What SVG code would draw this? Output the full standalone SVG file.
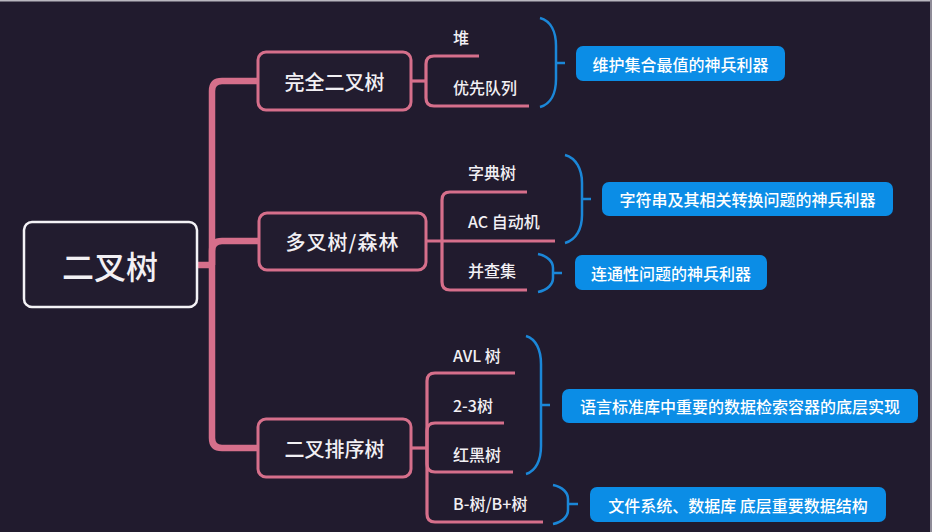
<svg xmlns="http://www.w3.org/2000/svg" width="932" height="532" viewBox="0 0 932 532">
<defs>
<style>
text{font-family:"Noto Sans CJK SC","Noto Sans",sans-serif;fill:#f2f0f4;dominant-baseline:central}
.root rect{fill:#221c2f;stroke:#f4f2f6;stroke-width:2.5}
.root text{font-size:32px;font-weight:500;text-anchor:middle}
.mid rect{fill:#221c2f;stroke:#d66f8b;stroke-width:3}
.mid text{font-size:20px;font-weight:500;text-anchor:middle}
.leaf text{font-size:16px;font-weight:500}
.note rect{fill:#0b8de6}
.note text{font-size:16px;font-weight:500;text-anchor:middle;fill:#ffffff}
.trunk{fill:none;stroke:#d66f8b;stroke-width:6.5;stroke-linecap:butt}
.edge{fill:none;stroke:#d66f8b;stroke-width:3.2}
.brace{fill:none;stroke:#1b87d8;stroke-width:2.5}
</style>
</defs>
<rect width="932" height="532" fill="#211b2e"/>
<line x1="0" y1="0.8" x2="932" y2="0.8" stroke="#b9b7bf" stroke-width="1.6"/>
<line x1="931" y1="0" x2="931" y2="532" stroke="#8f8c98" stroke-width="2"/>

<g id="connectors">
  <path class="trunk" d="M197,265 H212"/>
  <path class="trunk" d="M212,265 V91 Q212,81 222,81 H258"/>
  <path class="trunk" d="M212,265 V251 Q212,241 222,241 H259"/>
  <path class="trunk" d="M212,265 V438 Q212,448 222,448 H258"/>

  <path class="edge" d="M411,81 H426"/>
  <path class="edge" d="M426,81 V64 Q426,56 434,56 H479"/>
  <path class="edge" d="M426,81 V98 Q426,106 434,106 H529"/>

  <path class="edge" d="M426,241 H555"/>
  <path class="edge" d="M442,241 V200 Q442,192 450,192 H527"/>
  <path class="edge" d="M442,241 V282 Q442,290 450,290 H527"/>

  <path class="edge" d="M411,448 H427"/>
  <path class="edge" d="M427,448 V381 Q427,373 435,373 H515"/>
  <path class="edge" d="M427,448 V431 Q427,423 435,423 H504"/>
  <path class="edge" d="M427,448 V464 Q427,472 435,472 H513"/>
  <path class="edge" d="M427,448 V514 Q427,522 435,522 H543"/>

  <path class="brace" d="M540,18 C551,21 556,32 556,46 V79 C556,93 551,104 540,107 M556,63 H565"/>
  <path class="brace" d="M565,155 C576,158 582,169 582,183 V215 C582,229 576,240 565,243 M582,199 H591"/>
  <path class="brace" d="M538,254 C548,256 553,262 553,268 V278 C553,284 548,290 538,292 M553,273 H562"/>
  <path class="brace" d="M526,336 C536,339 541,350 541,364 V446 C541,460 536,471 526,474 M541,405 H550"/>
  <path class="brace" d="M553,485 C563,487 568,493 568,499 V510 C568,516 563,522 553,524 M568,504 H578"/>
</g>

<g id="root" class="root">
  <rect x="24" y="222" width="173" height="85" rx="8"/>
  <text x="110" y="265">二叉树</text>
</g>

<g id="n-complete" class="mid">
  <rect x="258" y="52" width="153" height="58" rx="8"/>
  <text x="334.5" y="81">完全二叉树</text>
</g>
<g id="n-multi" class="mid">
  <rect x="259" y="213" width="167" height="57" rx="8"/>
  <text x="342.5" y="241.5" letter-spacing="1">多叉树/森林</text>
</g>
<g id="n-bst" class="mid">
  <rect x="258" y="419" width="153" height="58" rx="8"/>
  <text x="334.5" y="448">二叉排序树</text>
</g>

<g id="l-heap" class="leaf"><text x="453" y="37">堆</text></g>
<g id="l-pq" class="leaf"><text x="453" y="86.5">优先队列</text></g>
<g id="l-trie" class="leaf"><text x="468" y="172">字典树</text></g>
<g id="l-ac" class="leaf"><text x="468" y="221">AC 自动机</text></g>
<g id="l-uf" class="leaf"><text x="468" y="270">并查集</text></g>
<g id="l-avl" class="leaf"><text x="453" y="355">AVL 树</text></g>
<g id="l-23" class="leaf"><text x="453" y="405">2-3树</text></g>
<g id="l-rb" class="leaf"><text x="453" y="454">红黑树</text></g>
<g id="l-b" class="leaf"><text x="453" y="503">B-树/B+树</text></g>

<g id="note-1" class="note">
  <rect x="576" y="46" width="209" height="35" rx="7"/>
  <text x="680.5" y="63.5">维护集合最值的神兵利器</text>
</g>
<g id="note-2" class="note">
  <rect x="602" y="182" width="291" height="34" rx="7"/>
  <text x="747.5" y="199">字符串及其相关转换问题的神兵利器</text>
</g>
<g id="note-3" class="note">
  <rect x="575" y="255" width="192" height="35" rx="7"/>
  <text x="671" y="272.5">连通性问题的神兵利器</text>
</g>
<g id="note-4" class="note">
  <rect x="562" y="389" width="356" height="34" rx="7"/>
  <text x="740" y="406">语言标准库中重要的数据检索容器的底层实现</text>
</g>
<g id="note-5" class="note">
  <rect x="590" y="487" width="296" height="35" rx="7"/>
  <text x="738" y="504.5">文件系统、数据库 底层重要数据结构</text>
</g>
</svg>
